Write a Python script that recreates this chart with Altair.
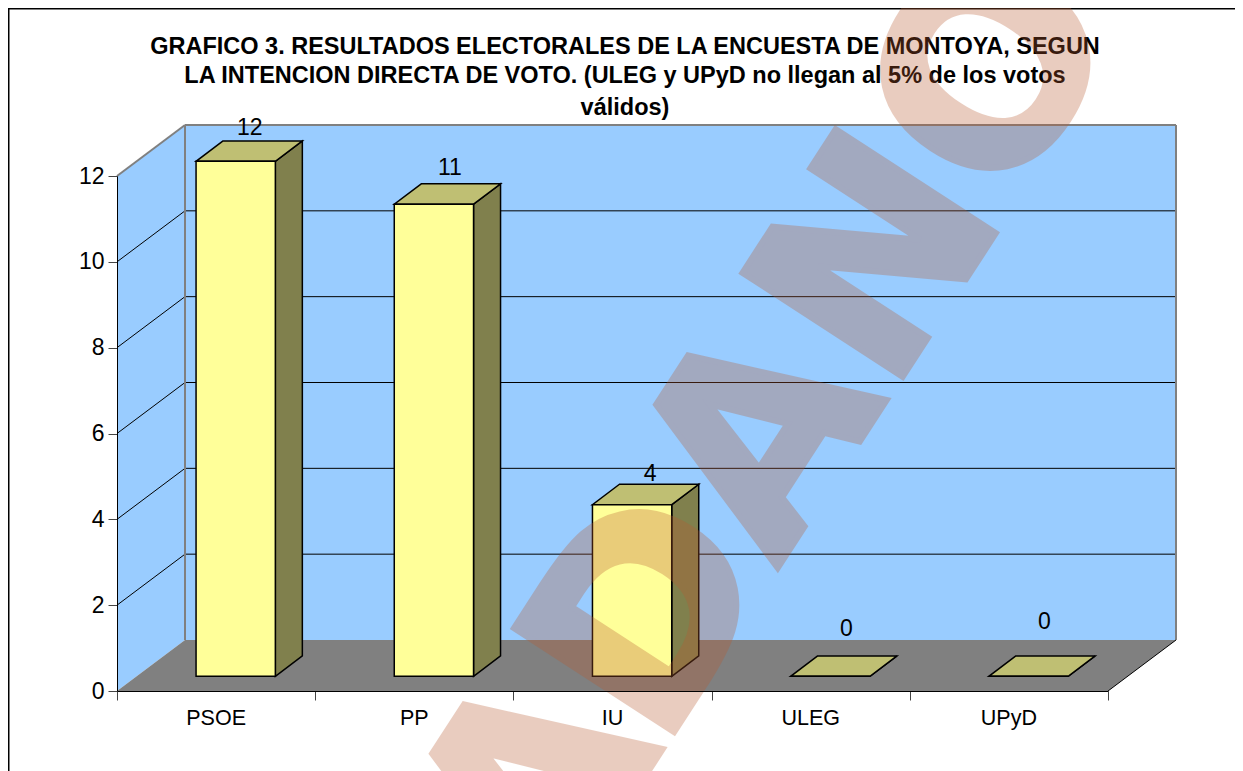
import altair as alt
import pandas as pd

# ---- chart values
categories = ["PSOE", "PP", "IU", "ULEG", "UPyD"]
values = [12, 11, 4, 0, 0]
y_ticks = [0, 2, 4, 6, 8, 10, 12]
grid_values = [2, 4, 6, 8, 10]
title_lines = [
    "GRAFICO 3. RESULTADOS ELECTORALES DE LA ENCUESTA DE MONTOYA, SEGUN",
    "LA INTENCION DIRECTA DE VOTO. (ULEG y UPyD no llegan al 5% de los votos",
    "válidos)",
]
watermark_letters = ["A", "D", "A", "N", "O"]

# ---- layout
W, H = 991, 515
FONT = "Liberation Sans"
PX_X = W / 5
PX_Y = H / 12
WALL_DX, WALL_DY = 68 / PX_X, 51 / PX_Y
BAR_DX, BAR_DY = 27 / PX_X, 20.4 / PX_Y
BAR_X0, BAR_Y0 = 19.6 / PX_X + 0.3, 14.7 / PX_Y
BAR_W = 0.4
LABEL_LIFT = [13, 16, 10, 27, 34]
LABEL_DX = [14, 16, 18, 16, 16]
WM_CENTRES = [(542, 790), (654, 618), (766, 441), (883, 262), (999, 75)]
WM_COLOR, WM_OPACITY = "#b85a30", 0.3

X = alt.X("x:Q", scale=alt.Scale(domain=[0, 5], nice=False, zero=False), title=None,
          axis=alt.Axis(values=list(range(6)), labels=False, tickSize=9, tickColor="#444444",
                        domainColor="black", grid=False, title=None, zindex=1))
Y = alt.Y("y:Q", scale=alt.Scale(domain=[0, 12], nice=False, zero=False), title=None,
          axis=alt.Axis(values=y_ticks, tickSize=9, tickColor="#444444", domainColor="black",
                        grid=False, labelFontSize=23, labelFont=FONT, labelColor="black",
                        labelPadding=4, title=None, zindex=1))


def area_h(rows, **kw):
    """Parallelogram with horizontal top and bottom."""
    return alt.Chart(pd.DataFrame(rows)).mark_area(orient="horizontal", **kw).encode(
        x=X, x2="x2:Q", y=Y, detail="k:N")


def area_v(rows, **kw):
    """Parallelogram with vertical left and right sides."""
    return alt.Chart(pd.DataFrame(rows)).mark_area(orient="vertical", **kw).encode(
        x=X, y=Y, y2="y2:Q", detail="k:N")


def segs(rows, **kw):
    return alt.Chart(pd.DataFrame(rows)).mark_line(**kw).encode(
        x=X, y=Y, detail="k:N", order="o:Q")


def seg(k, x0, y0, x1, y1):
    return [dict(k=k, o=0, x=x0, y=y0), dict(k=k, o=1, x=x1, y=y1)]


layers = []
# back wall
layers.append(alt.Chart(pd.DataFrame([dict(x=WALL_DX, x2=5 + WALL_DX, y=WALL_DY, y2=12 + WALL_DY)]))
              .mark_rect(color="#99CCFF").encode(x=X, x2="x2:Q", y=Y, y2="y2:Q"))
# side wall
layers.append(area_v([dict(k="w", x=0, y=0, y2=12), dict(k="w", x=WALL_DX, y=WALL_DY, y2=12 + WALL_DY)],
                     color="#99CCFF"))
# floor
layers.append(area_h([dict(k="f", x=0, x2=5, y=0), dict(k="f", x=WALL_DX, x2=5 + WALL_DX, y=WALL_DY)],
                     color="#808080"))
# gridlines
grid_rows = []
for v in grid_values:
    grid_rows += seg(f"b{v}", WALL_DX, v + WALL_DY, 5 + WALL_DX, v + WALL_DY)
    grid_rows += seg(f"s{v}", 0, v, WALL_DX, v + WALL_DY)
layers.append(segs(grid_rows, color="black", strokeWidth=1))
# wall edges
edge_rows = (seg("t", WALL_DX, 12 + WALL_DY, 5 + WALL_DX, 12 + WALL_DY)
             + seg("td", 0, 12, WALL_DX, 12 + WALL_DY)
             + seg("l", WALL_DX, WALL_DY, WALL_DX, 12 + WALL_DY)
             + seg("r", 5 + WALL_DX, WALL_DY, 5 + WALL_DX, 12 + WALL_DY))
layers.append(segs(edge_rows, color="#808080", strokeWidth=2))
layers.append(segs(seg("fr", 5, 0, 5 + WALL_DX, WALL_DY), color="black", strokeWidth=1))

# bars
for i, v in enumerate(values):
    x0, x1 = i + BAR_X0, i + BAR_X0 + BAR_W
    b, t = BAR_Y0, BAR_Y0 + v
    side = [dict(k="s", x=x1, y=b, y2=t), dict(k="s", x=x1 + BAR_DX, y=b + BAR_DY, y2=t + BAR_DY)]
    top = [dict(k="t", x=x0, x2=x1, y=t), dict(k="t", x=x0 + BAR_DX, x2=x1 + BAR_DX, y=t + BAR_DY)]
    layers.append(area_v(side, color="#80804D", stroke="black", strokeWidth=1.5))
    layers.append(area_h(top, color="#BFBF73", stroke="black", strokeWidth=1.5))
    layers.append(alt.Chart(pd.DataFrame([dict(x=x0, x2=x1, y=b, y2=t)]))
                  .mark_rect(color="#FFFF99", stroke="black", strokeWidth=1.5)
                  .encode(x=X, x2="x2:Q", y=Y, y2="y2:Q"))
    # value label
    layers.append(alt.Chart(pd.DataFrame([dict(x=(x0 + x1) / 2, y=t + BAR_DY, t=str(v))]))
                  .mark_text(font=FONT, fontSize=23, color="black", baseline="middle",
                             dx=LABEL_DX[i], dy=-LABEL_LIFT[i])
                  .encode(x=X, y=Y, text="t:N"))

# category labels
layers.append(alt.Chart(pd.DataFrame([dict(x=i + 0.5, t=c) for i, c in enumerate(categories)]))
              .mark_text(font=FONT, fontSize=21.5, color="black", baseline="middle")
              .encode(x=X, y=alt.value(542.5), text="t:N"))

# title
for line, yy in zip(title_lines, [47, 76, 108]):
    layers.append(alt.Chart(pd.DataFrame([dict(t=line)]))
                  .mark_text(font=FONT, fontSize=23.5, fontWeight="bold", color="black", baseline="middle")
                  .encode(x=alt.value(625 - 117), y=alt.value(yy - 176), text="t:N"))

# frame (top and left only; the other two edges lie off the picture)
layers.append(alt.Chart(pd.DataFrame([dict(a=0)])).mark_rule(color="black", strokeWidth=2)
              .encode(x=alt.value(-108.5), y=alt.value(-168), y2=alt.value(600)))
layers.append(alt.Chart(pd.DataFrame([dict(a=0)])).mark_rule(color="black", strokeWidth=2)
              .encode(x=alt.value(-109), x2=alt.value(1130), y=alt.value(-167.5)))

# watermark
for ch, (cx, cy) in zip(watermark_letters, WM_CENTRES):
    layers.append(alt.Chart(pd.DataFrame([dict(t=ch)]))
                  .mark_text(font="DejaVu Sans", fontSize=262, fontWeight="bold", color=WM_COLOR,
                             stroke=WM_COLOR, strokeWidth=6,
                             opacity=WM_OPACITY, angle=303, baseline="middle", align="center")
                  .encode(x=alt.value(cx - 117), y=alt.value(cy - 176), text="t:N"))

chart = (alt.layer(*layers)
         .properties(width=W, height=H, autosize=alt.AutoSizeParams(type="none"),
                     padding={"left": 109, "top": 168, "right": 127, "bottom": 80})
         .configure_view(stroke=None)
         .configure(background="white"))
chart.save("out.html", embed_options={"renderer": "svg", "actions": False})
